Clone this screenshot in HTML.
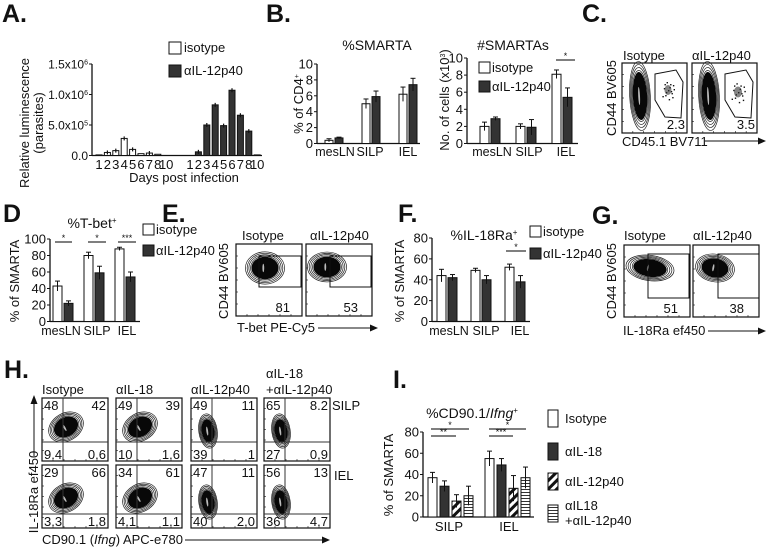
<!DOCTYPE html>
<html><head><meta charset="utf-8"><style>
html,body{margin:0;padding:0;background:#fff}
svg{display:block;font-family:"Liberation Sans",Arial,sans-serif}
</style></head><body>
<svg id="fig" width="768" height="550" viewBox="0 0 768 550" xmlns="http://www.w3.org/2000/svg">
<defs>
<pattern id="diag" patternUnits="userSpaceOnUse" width="6" height="6" patternTransform="rotate(45)"><rect width="6" height="6" fill="#fff"/><rect width="3" height="6" fill="#111"/></pattern>
<pattern id="hl" patternUnits="userSpaceOnUse" width="4" height="3"><rect width="4" height="3" fill="#fff"/><rect width="4" height="1" fill="#333"/></pattern>
</defs>
<g font-weight="bold" font-size="25" fill="#111">
<text x="2" y="22">A.</text>
<text x="266" y="22">B.</text>
<text x="582" y="22">C.</text>
<text x="3" y="222">D</text>
<text x="162" y="222">E.</text>
<text x="398" y="222">F.</text>
<text x="592" y="224">G.</text>
<text x="4" y="378">H.</text>
<text x="393" y="388">I.</text>
</g>
<g id="layer"></g>
</svg>
<script>
// ---------- DATA ----------
const daysA = ["1","2","3","4","5","6","7","8","10"];
const isoA = [0.01, 0.05, 0.08, 0.28, 0.10, 0.03, 0.04, 0.02, 0.0];
const ab40A = [0.0, 0.06, 0.50, 0.83, 0.49, 1.07, 0.66, 0.40, 0.01];
const ticksA = ["0.0","5.0x10^5","1.0x10^6","1.5x10^6"];
const tissues3 = ["mesLN","SILP","IEL"];
const isoB1 = [0.4, 5.0, 6.2];
const abB1 = [0.7, 5.9, 7.4];
const isoB1e = [0.2, 0.6, 0.9];
const abB1e = [0.1, 0.7, 0.8];
const isoB2 = [2.0, 2.0, 8.1];
const abB2 = [2.9, 1.9, 5.4];
const isoB2e = [0.5, 0.3, 0.5];
const abB2e = [0.2, 0.9, 1.1];
const isoD = [43, 80, 88];
const abD = [22, 59, 54];
const isoDe = [6, 4, 2];
const abDe = [3, 8, 6];
const isoF = [44, 49, 52];
const abF = [42, 40, 38];
const isoFe = [6, 2, 3];
const abFe = [3, 4, 6];
const tissues2 = ["SILP","IEL"];
const isoI = [37, 55];
const il18I = [29, 49];
const p40I = [15, 27];
const comboI = [20, 37];
const isoIe = [5, 7];
const il18Ie = [5, 6];
const p40Ie = [6, 12];
const comboIe = [9, 10];

const NS="http://www.w3.org/2000/svg";
const L=document.getElementById('layer');
function mk(tag,attrs,parent){const e=document.createElementNS(NS,tag);for(const k in attrs)e.setAttribute(k,attrs[k]);(parent||L).appendChild(e);return e;}
function txt(x,y,s,size,anchor,parent){const t=mk('text',{x:x,y:y,'font-size':size||12,'text-anchor':anchor||'start',fill:'#111'},parent);t.textContent=s;return t;}
function supTick(t,s){
  const p=s.split('^');t.textContent=p[0];
  if(p[1]){const ts=mk('tspan',{'font-size':7,dy:-4},t);ts.textContent=p[1];}
}

function barChart(o){
  const g=mk('g',{});
  
  
  const ys=v=>o.y0-(v/o.ymax)*(o.y0-o.y1);
  mk('line',{x1:o.ax,y1:o.y1,x2:o.ax,y2:o.y0,stroke:'#111','stroke-width':1.3},g);
  mk('line',{x1:o.ax,y1:o.y0,x2:o.xEnd,y2:o.y0,stroke:'#111','stroke-width':1.3},g);
  o.tickVals.forEach((tv,i)=>{
    const y=ys(tv);
    mk('line',{x1:o.ax-3,y1:y,x2:o.ax,y2:y,stroke:'#111'},g);
    const t=txt(o.ax-4,y+4.5,'',o.tfs||13,'end',g);
    supTick(t,o.tickLabels[i]);
    
    
  });
  o.series.forEach((s,si)=>{
    s.vals.forEach((v,ci)=>{
      const x=o.gx(ci)+si*(o.bw+o.gap);
      const r=mk('rect',{x:x,y:ys(v),width:o.bw,height:Math.max(0,o.y0-ys(v)),fill:s.fill,stroke:'#111','stroke-width':1},g);
      
      
      if(s.errs){const cx=x+o.bw/2,e=s.errs[ci];
        mk('line',{x1:cx,y1:ys(v+e),x2:cx,y2:ys(Math.max(0,v-e)),stroke:'#111','stroke-width':1},g);
        mk('line',{x1:cx-2.5,y1:ys(v+e),x2:cx+2.5,y2:ys(v+e),stroke:'#111','stroke-width':1},g);}
    });
  });
  return {g,ys};
}

// ---------- Panel A ----------
{
 const c=barChart({name:'chart-a',ax:92,y0:155.5,y1:64,xEnd:262,ymax:1.5,tickVals:[0,0.5,1.0,1.5],tickLabels:ticksA,tfs:12,bw:6,gap:0,
  gx:i=>i,series:[]});
 const ys=c.ys;
 [[isoA,96,'#fff','isotype'],[ab40A,187,'#333','anti-il12p40']].forEach(([arr,start,fill,key])=>{
  arr.forEach((v,i)=>{const x=start+i*8.4;
   const r=mk('rect',{x:x,y:ys(v),width:6,height:155.5-ys(v),fill:fill,stroke:'#111','stroke-width':1},c.g);
   
   
   if(v>0.03)mk('line',{x1:x+3,y1:ys(v)-2,x2:x+3,y2:ys(v)+2,stroke:'#111','stroke-width':1.2},c.g);
   const t=txt(x+3,169,daysA[i],13,'middle',c.g);
   
   
  });
 });
 txt(184,182,'Days post infection',13,'middle');
 const yl=txt(0,0,'Relative luminescence',13,'middle');yl.setAttribute('transform','translate(29,123) rotate(-90)');
 const y2=txt(0,0,'(parasites)',13,'middle');y2.setAttribute('transform','translate(43,123) rotate(-90)');
 mk('rect',{x:169,y:42,width:12,height:12,fill:'#fff',stroke:'#111'});txt(184,52,'isotype',13);
 mk('rect',{x:169,y:65,width:12,height:12,fill:'#333',stroke:'#111'});txt(184,75,'αIL-12p40',13);
}

function xLabels(labels,xs,y,fs){labels.forEach((s,i)=>{const t=txt(xs[i],y,s,fs||13,'middle');});}
function rotLabel(s,x,y,fs){const t=txt(0,0,s,fs||13,'middle');t.setAttribute('transform','translate('+x+','+y+') rotate(-90)');return t;}
function legend2(x,y1,y2,fs){mk('rect',{x:x,y:y1,width:11,height:11,fill:'#fff',stroke:'#111'});txt(x+13,y1+10,'isotype',fs||13);
 mk('rect',{x:x,y:y2,width:11,height:11,fill:'#333',stroke:'#111'});txt(x+13,y2+10,'αIL-12p40',fs||13);}
function sig(x1,x2,y,s){mk('line',{x1:x1,y1:y,x2:x2,y2:y,stroke:'#333','stroke-width':1.2});txt((x1+x2)/2,y-1,s,9,'middle');}

// ---------- Panel B left ----------
{
 barChart({name:'chart-b-percent-smarta',ax:317,y0:143.5,y1:64,xEnd:420,ymax:10,tickVals:[0,2,4,6,8,10],tickLabels:['0','2','4','6','8','10'],bw:8,gap:2,
  gx:i=>325+i*37,series:[{key:'isotype',vals:isoB1,errs:isoB1e,fill:'#fff'},{key:'anti-il12p40',vals:abB1,errs:abB1e,fill:'#333'}]});
 xLabels(['mesLN','SILP','IEL'],[335,370,408],156,12.5);
 txt(377,50,'%SMARTA',14,'middle');
 const t=rotLabel('% of CD4',303,104,13);const s=mk('tspan',{'font-size':7,dy:-4},t);s.textContent='+';
}
// ---------- Panel B right ----------
{
 barChart({name:'chart-b-number-smarta',ax:467,y0:143.5,y1:58,xEnd:578,ymax:10,tickVals:[0,2,4,6,8,10],tickLabels:['0','2','4','6','8','10'],bw:9,gap:2,
  gx:i=>480+i*36,series:[{key:'isotype',vals:isoB2,errs:isoB2e,fill:'#fff'},{key:'anti-il12p40',vals:abB2,errs:abB2e,fill:'#333'}]});
 xLabels(['mesLN','SILP','IEL'],[492,529,566],156,12.5);
 txt(513,50,'#SMARTAs',14,'middle');
 const t=rotLabel('No. of cells (x10',449,100,13);const s=mk('tspan',{'font-size':7,dy:-4},t);s.textContent='3';const s2=mk('tspan',{'font-size':13,dy:4},t);s2.textContent=')';
 legend2(479,62,81,13);
 sig(556,575,60,'*');
}

// ---------- Flow plot helpers ----------
function box(x,y,w,h,name){const r=mk('rect',{x:x,y:y,width:w,height:h,fill:'#fff',stroke:'#111','stroke-width':1.2});
 for(let i=1;i<6;i++){mk('line',{x1:x,y1:y+h*i/6,x2:x+2,y2:y+h*i/6,stroke:'#111','stroke-width':0.6});mk('line',{x1:x+w*i/6,y1:y+h,x2:x+w*i/6,y2:y+h-2,stroke:'#111','stroke-width':0.6});}
}
function blob(cx,cy,rx,ry,rot){const g=mk('g',{transform:'rotate('+(rot||0)+' '+cx+' '+cy+')'});
 for(let k=4;k>=1;k--){mk('ellipse',{cx:cx,cy:cy,rx:rx*(0.75+k*0.1),ry:ry*(0.75+k*0.1),fill:'none',stroke:'#222','stroke-width':0.7},g);}
 mk('ellipse',{cx:cx,cy:cy,rx:rx*0.8,ry:ry*0.8,fill:'#080808'},g);
 mk('ellipse',{cx:cx-rx*0.1,cy:cy,rx:0.9,ry:ry*0.3,fill:'#bbb'},g);
}
function arrowH(x1,x2,y){mk('line',{x1:x1,y1:y,x2:x2-6,y2:y,stroke:'#111','stroke-width':1});mk('polygon',{points:(x2-8)+','+(y-3.5)+' '+x2+','+y+' '+(x2-8)+','+(y+3.5),fill:'#111'});}
function dots(cx,cy,rx,ry){const g=mk('g',{fill:'#111'});
 [[0,0],[0.5,0.3],[-0.4,0.5],[0.3,-0.6],[-0.6,-0.2],[0.8,-0.1],[-0.2,-0.8],[0.1,0.9],[0.6,0.7],[-0.8,0.6],[0.4,0.1],[-0.3,0.2],[0.2,-0.3],[-0.5,-0.6],[0.7,-0.5]].forEach(p=>mk('rect',{x:cx+p[0]*rx,y:cy+p[1]*ry,width:1.4,height:1.4},g));
 mk('ellipse',{cx:cx,cy:cy,rx:rx*0.5,ry:ry*0.5,fill:'#333',opacity:0.6},g);}

// ---------- Panel C ----------
{
 box(622,63,65,70,'flow-c-isotype');box(692,63,65,70,'flow-c-anti-il12p40');
 blob(640,96,9,30,-3);blob(709,96,9,30,-3);
 mk('path',{d:'M655,74 L676,70 L683,82 L681,118 L665,117 L655,100 Z',fill:'none',stroke:'#111'});
 mk('path',{d:'M725,74 L746,70 L753,82 L751,118 L735,117 L725,100 Z',fill:'none',stroke:'#111'});
 dots(668,90,7,10);dots(738,92,8,11);
 txt(623,60,'Isotype',13);txt(692,60,'αIL-12p40',13);
 txt(685,129,'2.3',13,'end');txt(755,129,'3.5',13,'end');
 rotLabel('CD44 BV605',616,98,13);txt(622,146,'CD45.1 BV711',13);arrowH(705,766,141);
}

// ---------- Panel D ----------
{
 barChart({name:'chart-d-tbet',ax:50,y0:321.5,y1:239,xEnd:140,ymax:100,tickVals:[0,20,40,60,80,100],tickLabels:['0','20','40','60','80','100'],bw:9,gap:2,
  gx:i=>53+i*31,series:[{key:'isotype',vals:isoD,errs:isoDe,fill:'#fff'},{key:'anti-il12p40',vals:abD,errs:abDe,fill:'#333'}]});
 xLabels(['mesLN','SILP','IEL'],[61,97,127],335,12.5);
 const t=txt(92,228,'%T-bet',14,'middle');const s=mk('tspan',{'font-size':8,dy:-5},t);s.textContent='+';
 rotLabel('% of SMARTA',19,281,13);
 legend2(143,224,245,13);
 sig(55,72,242,'*');sig(88,106,242,'*');sig(118,136,242,'***');
}

// ---------- Panel E ----------
{
 box(236,244,66,72,'flow-e-isotype');box(306,244,66,72,'flow-e-anti-il12p40');
 blob(265,268,17,14,0);blob(327,267,17,13,0);
 mk('rect',{x:259,y:256,width:42,height:31,fill:'none',stroke:'#111','stroke-width':1});
 mk('rect',{x:330,y:256,width:41,height:31,fill:'none',stroke:'#111','stroke-width':1});
 txt(242,240,'Isotype',13);txt(310,240,'αIL-12p40',13);
 txt(290,312,'81',13,'end');txt(358,312,'53',13,'end');
 rotLabel('CD44 BV605',228,281,13);txt(237,332,'T-bet PE-Cy5',13);arrowH(318,378,328);
}

// ---------- Panel F ----------
{
 barChart({name:'chart-f-il18ra',ax:432,y0:321.5,y1:238,xEnd:530,ymax:80,tickVals:[0,20,40,60,80],tickLabels:['0','20','40','60','80'],bw:9,gap:2,
  gx:i=>437+i*34,series:[{key:'isotype',vals:isoF,errs:isoFe,fill:'#fff'},{key:'anti-il12p40',vals:abF,errs:abFe,fill:'#333'}]});
 xLabels(['mesLN','SILP','IEL'],[449,486,520],335,12.5);
 const t=txt(484,240,'%IL-18Ra',14,'middle');const s=mk('tspan',{'font-size':8,dy:-5},t);s.textContent='+';
 rotLabel('% of SMARTA',404,281,13);
 legend2(530,226,248,13);
 sig(506,526,251,'*');
}

// ---------- Panel G ----------
{
 box(624,245,66,72,'flow-g-isotype');box(693,245,66,72,'flow-g-anti-il12p40');
 blob(650,268,21,11,8);blob(715,268,17,12,10);
 mk('rect',{x:648,y:254,width:41,height:44,fill:'none',stroke:'#111'});
 mk('rect',{x:718,y:254,width:41,height:44,fill:'none',stroke:'#111'});
 txt(624,240,'Isotype',13);txt(693,240,'αIL-12p40',13);
 txt(678,313,'51',13,'end');txt(744,313,'38',13,'end');
 rotLabel('CD44 BV605',616,281,13);txt(623,335,'IL-18Ra ef450',13);arrowH(708,766,331);
}

// ---------- Panel H ----------
{
 const cols=[42,116,191,264];const rows=[398,465];
 const nums=[[['48','42','9.4','0.6'],['49','39','10','1.6'],['49','11','39','1'],['65','8.2','27','0.9']],
             [['29','66','3.3','1.8'],['34','61','4.1','1.1'],['47','11','40','2.0'],['56','13','36','4.7']]];
 rows.forEach((ry,ri)=>cols.forEach((cx,ci)=>{
  box(cx,ry,66,63,'flow-h-r'+ri+'-c'+ci);
  const hy=ry+(ri?49:44);
  if(ci<2){blob(cx+24,ry+(ri?33:29),16,12,-30);}
  else{blob(cx+17,ry+(ri?37:33),8,15,-8);}
  mk('line',{x1:cx+21,y1:ry,x2:cx+21,y2:ry+63,stroke:'#333','stroke-width':1});
  mk('line',{x1:cx,y1:hy,x2:cx+66,y2:hy,stroke:'#333','stroke-width':1});
  const n=nums[ri][ci];
  txt(cx+2,ry+12,n[0],13);txt(cx+64,ry+12,n[1],13,'end');txt(cx+2,ry+61,n[2],13);txt(cx+64,ry+61,n[3],13,'end');
 }));
 txt(42,394,'Isotype',13);txt(116,394,'αIL-18',13);txt(191,394,'αIL-12p40',13);txt(266,378,'αIL-18',13);txt(266,394,'+αIL-12p40',13);
 txt(332,410,'SILP',13);txt(334,480,'IEL',13);
 mk('line',{x1:34,y1:456,x2:34,y2:402,stroke:'#111'});mk('polygon',{points:'30.5,404 34,395 37.5,404',fill:'#111'});
 rotLabel('IL-18Ra ef450',38,492,13);
 const t=txt(42,544,'CD90.1 (',13);const it=mk('tspan',{'font-style':'italic'},t);it.textContent='Ifng';const t2=mk('tspan',{},t);t2.textContent=') APC-e780';
 arrowH(185,330,540);
}

// ---------- Panel I ----------
{
 barChart({name:'chart-i-ifng',ax:423,y0:517,y1:432,xEnd:534,ymax:80,tickVals:[0,20,40,60,80],tickLabels:['0','20','40','60','80'],bw:9,gap:3,
  gx:i=>428+i*57,series:[{key:'isotype',vals:isoI,errs:isoIe,fill:'#fff'},{key:'anti-il18',vals:il18I,errs:il18Ie,fill:'#333'},{key:'anti-il12p40',vals:p40I,errs:p40Ie,fill:'url(#diag)'},{key:'combo',vals:comboI,errs:comboIe,fill:'url(#hl)'}]});
 xLabels(tissues2,[449,509],531,13);
 const t=txt(472,418,'%CD90.1/',14,'middle');const it=mk('tspan',{'font-style':'italic'},t);it.textContent='Ifng';const s=mk('tspan',{'font-size':8,dy:-5},t);s.textContent='+';
 rotLabel('% of SMARTA',393,475,13);
 sig(431,469,429,'*');sig(431,456,436,'**');sig(489,526,429,'*');sig(489,513,436,'***');
 const lg=[['#fff','Isotype',410],['#333','αIL-18',443],['url(#diag)','αIL-12p40',473],['url(#hl)','',505]];
 lg.forEach(([f,s,y])=>{const r=mk('rect',{x:548,y:y,width:10,height:17,fill:f,stroke:'#111'});if(s)txt(565,y+13,s,13);});
 txt(565,510,'αIL18',13);txt(565,525,'+αIL-12p40',13);
}
</script>
</body></html>
